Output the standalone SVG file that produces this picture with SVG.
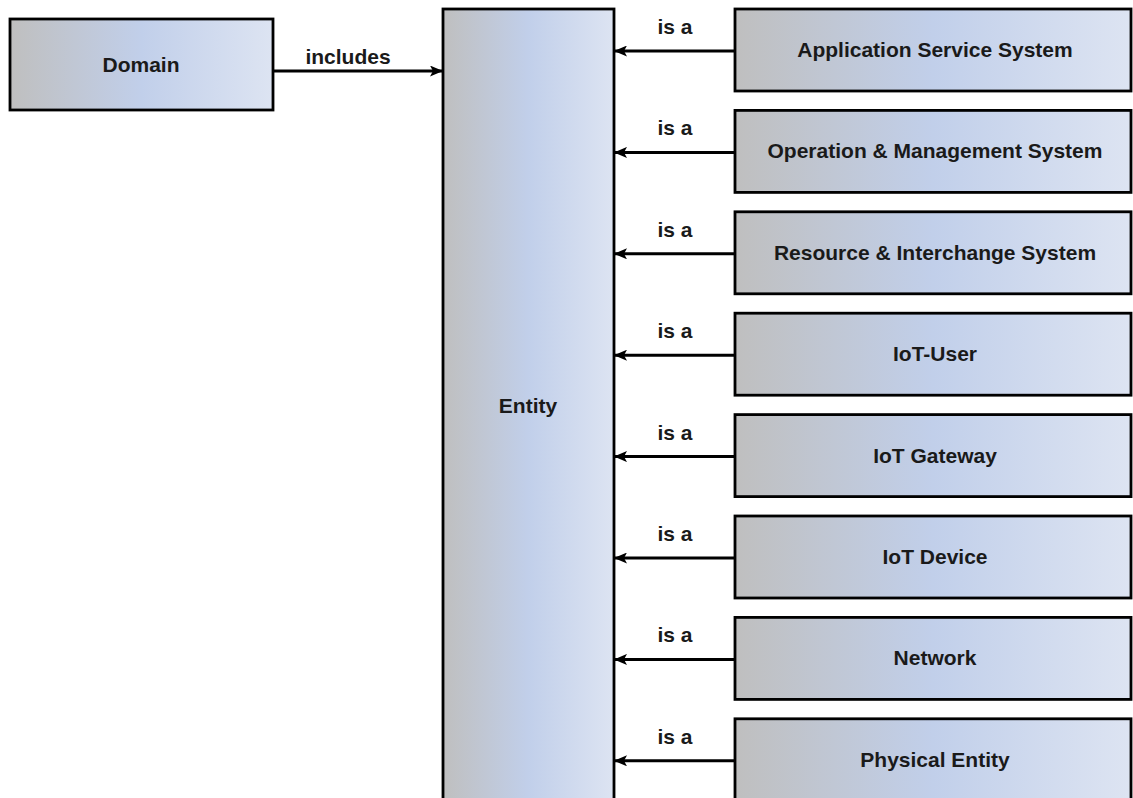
<svg xmlns="http://www.w3.org/2000/svg" width="1133" height="798" viewBox="0 0 1133 798">
<defs>
<linearGradient id="g" x1="0" y1="0" x2="1" y2="0">
<stop offset="0" stop-color="#bfbfbf"/>
<stop offset="0.5" stop-color="#c1cfea"/>
<stop offset="1" stop-color="#dde4f2"/>
</linearGradient>
<marker id="ah" viewBox="0 0 13 11" refX="12" refY="5.5" markerWidth="13" markerHeight="11" markerUnits="userSpaceOnUse" orient="auto">
<path d="M0,0 L13,5.5 L0,11 L3,5.5 z" fill="#000"/>
</marker>
<style>
.box{fill:url(#g);stroke:#000;stroke-width:2.8}
.t{font-family:"Liberation Sans",Arial,sans-serif;font-weight:bold;font-size:21px;fill:#1a1a1a;text-anchor:middle}
.c{stroke:#000;stroke-width:3;fill:none;marker-end:url(#ah)}
</style>
</defs>
<g id="domain"><rect class="box" x="10" y="19" width="263" height="91"/><text class="t" x="141" y="72">Domain</text></g>
<g id="entity"><rect class="box" x="443" y="9" width="171" height="800"/><text class="t" x="528" y="413">Entity</text></g>
<g id="n1"><rect class="box" x="735" y="9" width="396" height="82"/><text class="t" x="935" y="57">Application Service System</text></g>
<g id="n2"><rect class="box" x="735" y="110.4" width="396" height="82"/><text class="t" x="935" y="158.4">Operation &amp; Management System</text></g>
<g id="n3"><rect class="box" x="735" y="211.8" width="396" height="82"/><text class="t" x="935" y="259.8">Resource &amp; Interchange System</text></g>
<g id="n4"><rect class="box" x="735" y="313.2" width="396" height="82"/><text class="t" x="935" y="361.2">IoT-User</text></g>
<g id="n5"><rect class="box" x="735" y="414.6" width="396" height="82"/><text class="t" x="935" y="462.6">IoT Gateway</text></g>
<g id="n6"><rect class="box" x="735" y="516" width="396" height="82"/><text class="t" x="935" y="564">IoT Device</text></g>
<g id="n7"><rect class="box" x="735" y="617.4" width="396" height="82"/><text class="t" x="935" y="665.4">Network</text></g>
<g id="n8"><rect class="box" x="735" y="718.8" width="396" height="90"/><text class="t" x="935" y="766.8">Physical Entity</text></g>
<g id="connectors">
<line class="c" x1="273" y1="71" x2="442" y2="71"/>
<text class="t" x="348" y="64">includes</text>
<line class="c" x1="735" y1="51" x2="615" y2="51"/><text class="t" x="675" y="34">is a</text>
<line class="c" x1="735" y1="152.4" x2="615" y2="152.4"/><text class="t" x="675" y="135.4">is a</text>
<line class="c" x1="735" y1="253.8" x2="615" y2="253.8"/><text class="t" x="675" y="236.8">is a</text>
<line class="c" x1="735" y1="355.2" x2="615" y2="355.2"/><text class="t" x="675" y="338.2">is a</text>
<line class="c" x1="735" y1="456.6" x2="615" y2="456.6"/><text class="t" x="675" y="439.6">is a</text>
<line class="c" x1="735" y1="558" x2="615" y2="558"/><text class="t" x="675" y="541">is a</text>
<line class="c" x1="735" y1="659.4" x2="615" y2="659.4"/><text class="t" x="675" y="642.4">is a</text>
<line class="c" x1="735" y1="760.8" x2="615" y2="760.8"/><text class="t" x="675" y="743.8">is a</text>
</g>
</svg>
